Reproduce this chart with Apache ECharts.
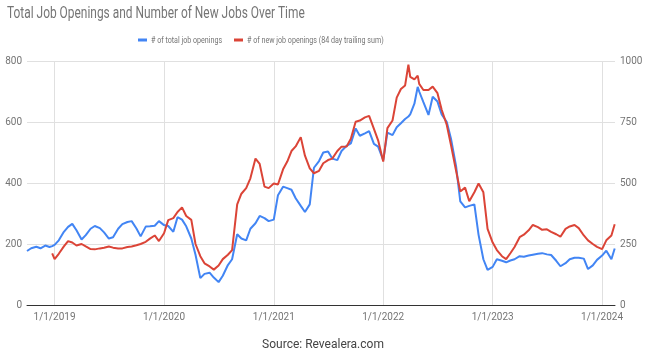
<!DOCTYPE html>
<html>
<head>
<meta charset="utf-8">
<script src="https://cdn.jsdelivr.net/npm/echarts@6/dist/echarts.min.js"></script>
<style>
html,body{margin:0;padding:0;background:#fff;}
#chart{width:646px;height:356px;}
</style>
</head>
<body>
<div id="chart"></div>
<script>
const titleText = 'Total Job Openings and Number of New Jobs Over Time';
const sourceText = 'Source: Revealera.com';
const seriesNames = ['# of total job openings', '# of new job openings (84 day trailing sum)'];
const seriesColors = ['#4285F4', '#DB4437'];
const yearTicks = ['2019-01-01','2020-01-01','2021-01-01','2022-01-01','2023-01-01','2024-01-01'];
const xRange = ['2018-10-01', '2024-02-13'];

const dates = [
 '2018-10-01','2018-10-15','2018-11-01','2018-11-15','2018-12-01','2018-12-15','2018-12-24',
 '2019-01-01','2019-01-15','2019-02-01','2019-02-15','2019-03-01','2019-03-15','2019-04-01','2019-04-15',
 '2019-05-01','2019-05-15','2019-06-01','2019-06-15','2019-07-01','2019-07-15','2019-08-01','2019-08-15',
 '2019-09-01','2019-09-15','2019-10-01','2019-10-15','2019-11-01','2019-11-15','2019-12-01','2019-12-15',
 '2020-01-01','2020-01-15','2020-02-01','2020-02-15','2020-03-01','2020-03-15','2020-04-01','2020-04-15',
 '2020-05-01','2020-05-15','2020-06-01','2020-06-15','2020-07-01','2020-07-15','2020-08-01','2020-08-15',
 '2020-09-01','2020-09-15','2020-10-01','2020-10-15','2020-11-01','2020-11-15','2020-12-01','2020-12-15',
 '2021-01-01','2021-01-15','2021-02-01','2021-02-15','2021-03-01','2021-03-15','2021-04-01','2021-04-15',
 '2021-05-01','2021-05-15','2021-06-01','2021-06-15','2021-07-01','2021-07-15','2021-08-01','2021-08-15',
 '2021-09-01','2021-09-15','2021-10-01','2021-10-15','2021-11-01','2021-11-15','2021-12-01','2021-12-15',
 '2022-01-01','2022-01-15','2022-02-01','2022-02-15','2022-03-01','2022-03-15','2022-03-26','2022-04-01','2022-04-15',
 '2022-04-26','2022-05-01','2022-05-15','2022-06-01','2022-06-15','2022-07-01','2022-07-15','2022-08-01','2022-08-15',
 '2022-09-01','2022-09-15','2022-10-01','2022-10-15','2022-11-01','2022-11-15','2022-12-01','2022-12-15',
 '2023-01-01','2023-01-15','2023-02-01','2023-02-15','2023-03-01','2023-03-15','2023-04-01','2023-04-15',
 '2023-05-01','2023-05-15','2023-06-01','2023-06-15','2023-07-01','2023-07-15','2023-08-01','2023-08-15',
 '2023-09-01','2023-09-15','2023-10-01','2023-10-15','2023-11-01','2023-11-15','2023-12-01','2023-12-15',
 '2024-01-01','2024-01-15','2024-02-01','2024-02-12'
];

// left axis units
const totalOpenings = [
 177,186,191,186,195,190,193,
 197,212,240,256,266,245,215,229,
 250,259,252,238,218,222,250,265,
 272,275,251,225,257,258,260,275,
 262,259,240,288,280,258,218,165,
 88,102,106,90,75,96,131,150,
 232,218,212,250,268,292,285,275,
 280,360,388,383,378,350,325,305,
 330,450,472,500,503,480,475,505,
 522,530,579,555,563,570,528,519,
 475,565,557,583,596,610,618,625,660,
 715,700,665,623,683,667,625,600,545,
 455,340,320,325,330,230,150,115,
 125,150,145,140,146,150,160,158,
 162,165,168,170,166,164,145,127,
 137,150,155,155,152,118,130,148,
 162,178,150,185
];

// right axis units
const newOpenings = [
 null,null,null,null,null,null,212,
 188,210,240,262,256,244,250,240,
 229,228,232,235,240,235,232,232,
 238,240,245,250,259,272,285,262,
 294,348,356,381,400,365,349,250,
 200,171,158,145,162,188,206,225,
 412,456,479,519,600,578,485,479,
 498,494,556,588,631,650,688,612,
 560,540,550,581,594,600,631,649,
 650,681,751,756,769,775,722,675,
 588,725,756,850,885,900,985,935,925,
 940,906,881,881,895,868,800,738,656,
 550,465,481,425,462,498,462,312,
 256,225,200,188,212,238,278,288,
 306,328,319,308,310,300,290,280,
 312,322,328,315,285,265,250,238,
 229,265,285,331
];

const toTs = d => Date.parse(d + 'T00:00:00Z');
const chart = echarts.init(document.getElementById('chart'), null, {renderer: 'canvas'});
const FONT = 'Roboto';
const gridColor = '#e0e0e0';
const labelColor = '#757575';

function fmtDate(v) {
  const d = new Date(v);
  return (d.getUTCMonth() + 1) + '/' + d.getUTCDate() + '/' + d.getUTCFullYear();
}
const tickTs = yearTicks.map(toTs);

// condensed-looking header text (title + legend) drawn as scaled text
const legendLayout = [{icon: 138, text: 151}, {icon: 234, text: 247}];
const headerGraphics = [{
  type: 'text', x: 7, y: 13.5, scaleX: 0.745,
  style: {text: titleText, fontFamily: FONT, fontSize: 16, fill: '#757575', verticalAlign: 'middle', align: 'left'}
}];
seriesNames.forEach((name, i) => {
  headerGraphics.push({
    type: 'rect', shape: {x: legendLayout[i].icon, y: 38.5, width: 9, height: 3},
    style: {fill: seriesColors[i]}
  });
  headerGraphics.push({
    type: 'text', x: legendLayout[i].text, y: 40.5, scaleX: 0.75,
    style: {text: name, fontFamily: FONT, fontSize: 9.5, fill: labelColor, verticalAlign: 'middle', align: 'left'}
  });
});

chart.setOption({
  animation: false,
  backgroundColor: '#ffffff',
  textStyle: {fontFamily: FONT},
  title: {
    text: sourceText,
    left: 'center', top: 334,
    textStyle: {fontFamily: FONT, fontSize: 12, fontWeight: 'normal', color: '#444444'}
  },
  graphic: headerGraphics,
  grid: {left: 27, right: 31, top: 61, bottom: 51, containLabel: false},
  xAxis: {
    type: 'value',
    min: toTs(xRange[0]), max: toTs(xRange[1]),
    axisLine: {show: true, onZero: false, lineStyle: {color: '#333333', width: 1}},
    axisTick: {show: false, customValues: tickTs},
    axisLabel: {
      customValues: tickTs,
      formatter: v => fmtDate(v),
      color: labelColor, fontFamily: FONT, fontSize: 10, margin: 7
    },
    splitLine: {show: true, lineStyle: {color: gridColor, width: 1}}
  },
  yAxis: [{
    type: 'value', min: 0, max: 800, interval: 200,
    axisLine: {show: false}, axisTick: {show: false},
    axisLabel: {color: labelColor, fontFamily: FONT, fontSize: 10, margin: 5, formatter: v => String(v)},
    splitLine: {show: true, lineStyle: {color: gridColor, width: 1}}
  }, {
    type: 'value', min: 0, max: 1000, interval: 250,
    axisLine: {show: false}, axisTick: {show: false},
    axisLabel: {color: labelColor, fontFamily: FONT, fontSize: 10, margin: 5, formatter: v => String(v)},
    splitLine: {show: false}
  }],
  series: [{
    name: seriesNames[0], type: 'line', yAxisIndex: 0,
    showSymbol: false, symbol: 'none',
    lineStyle: {color: seriesColors[0], width: 2},
    itemStyle: {color: seriesColors[0]},
    data: dates.map((d, i) => [toTs(d), totalOpenings[i]]),
    z: 2
  }, {
    name: seriesNames[1], type: 'line', yAxisIndex: 1,
    showSymbol: false, symbol: 'none', connectNulls: false,
    lineStyle: {color: seriesColors[1], width: 2},
    itemStyle: {color: seriesColors[1]},
    data: dates.map((d, i) => [toTs(d), newOpenings[i]]),
    z: 3
  }]
});
</script>
</body>
</html>
